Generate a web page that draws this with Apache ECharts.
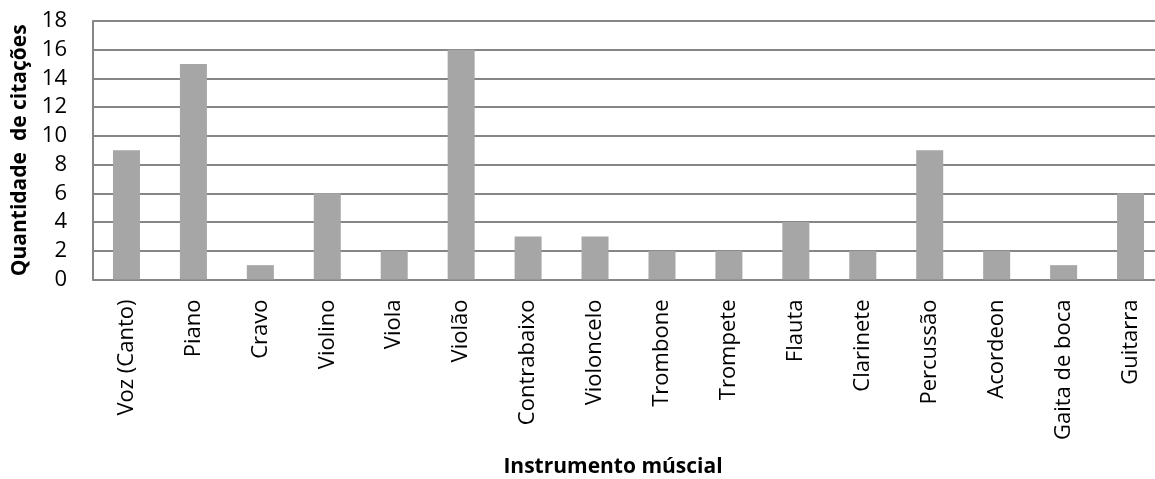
<!DOCTYPE html>
<html>
<head>
<meta charset="utf-8">
<script src="https://cdn.jsdelivr.net/npm/echarts@6/dist/echarts.min.js"></script>
<style>
  html, body { margin: 0; padding: 0; background: #ffffff; }
  #chart { width: 1155px; height: 479px; }
</style>
</head>
<body>
<div id="chart"></div>
<script>
// Instrumentos citados e número de citações de cada um
const instrumentos = [
  'Voz (Canto)', 'Piano', 'Cravo', 'Violino', 'Viola', 'Violão',
  'Contrabaixo', 'Violoncelo', 'Trombone', 'Trompete', 'Flauta',
  'Clarinete', 'Percussão', 'Acordeon', 'Gaita de boca', 'Guitarra'
];
const citacoes = [9, 15, 1, 6, 2, 16, 3, 3, 2, 2, 4, 2, 9, 2, 1, 6];

const tituloEixoX = 'Instrumento múscial';
const tituloEixoY = 'Quantidade  de citações';

const FONT = '"Open Sans", "DejaVu Sans", sans-serif';
const GRID_COLOR = '#868686';

const chart = echarts.init(document.getElementById('chart'), null, { renderer: 'canvas' });

chart.setOption({
  animation: false,
  backgroundColor: '#ffffff',
  textStyle: { fontFamily: FONT },
  title: {
    text: tituloEixoX,
    left: 608,
    textAlign: 'center',
    top: 452,
    textStyle: { fontFamily: FONT, fontSize: 21, fontWeight: 'bold', color: '#000000' }
  },
  // the plot runs a little past the right edge of the canvas, so no bounds fitting
  grid: { left: 93, top: 21, width: 1071, height: 258.5, containLabel: false, outerBoundsMode: 'none' },
  xAxis: {
    type: 'category',
    data: instrumentos,
    axisTick: { show: false },
    axisLine: { show: true, lineStyle: { color: GRID_COLOR, width: 2 } },
    axisLabel: {
      interval: 0,
      rotate: 90,
      margin: 20,
      fontFamily: FONT,
      fontSize: 22,
      color: '#000000'
    }
  },
  yAxis: {
    type: 'value',
    min: 0,
    max: 18,
    interval: 2,
    name: tituloEixoY,
    nameLocation: 'middle',
    nameGap: 62,
    nameRotate: 90,
    nameTextStyle: { fontFamily: FONT, fontSize: 21, fontWeight: 'bold', color: '#000000' },
    axisLine: { show: true, lineStyle: { color: GRID_COLOR, width: 2 } },
    axisTick: { show: false },
    axisLabel: { margin: 26, fontFamily: FONT, fontSize: 22, color: '#000000' },
    splitLine: { show: true, lineStyle: { color: GRID_COLOR, width: 2 } }
  },
  series: [{
    type: 'bar',
    data: citacoes,
    barWidth: 27,
    itemStyle: { color: '#A6A6A6' }
  }]
});
</script>
</body>
</html>
